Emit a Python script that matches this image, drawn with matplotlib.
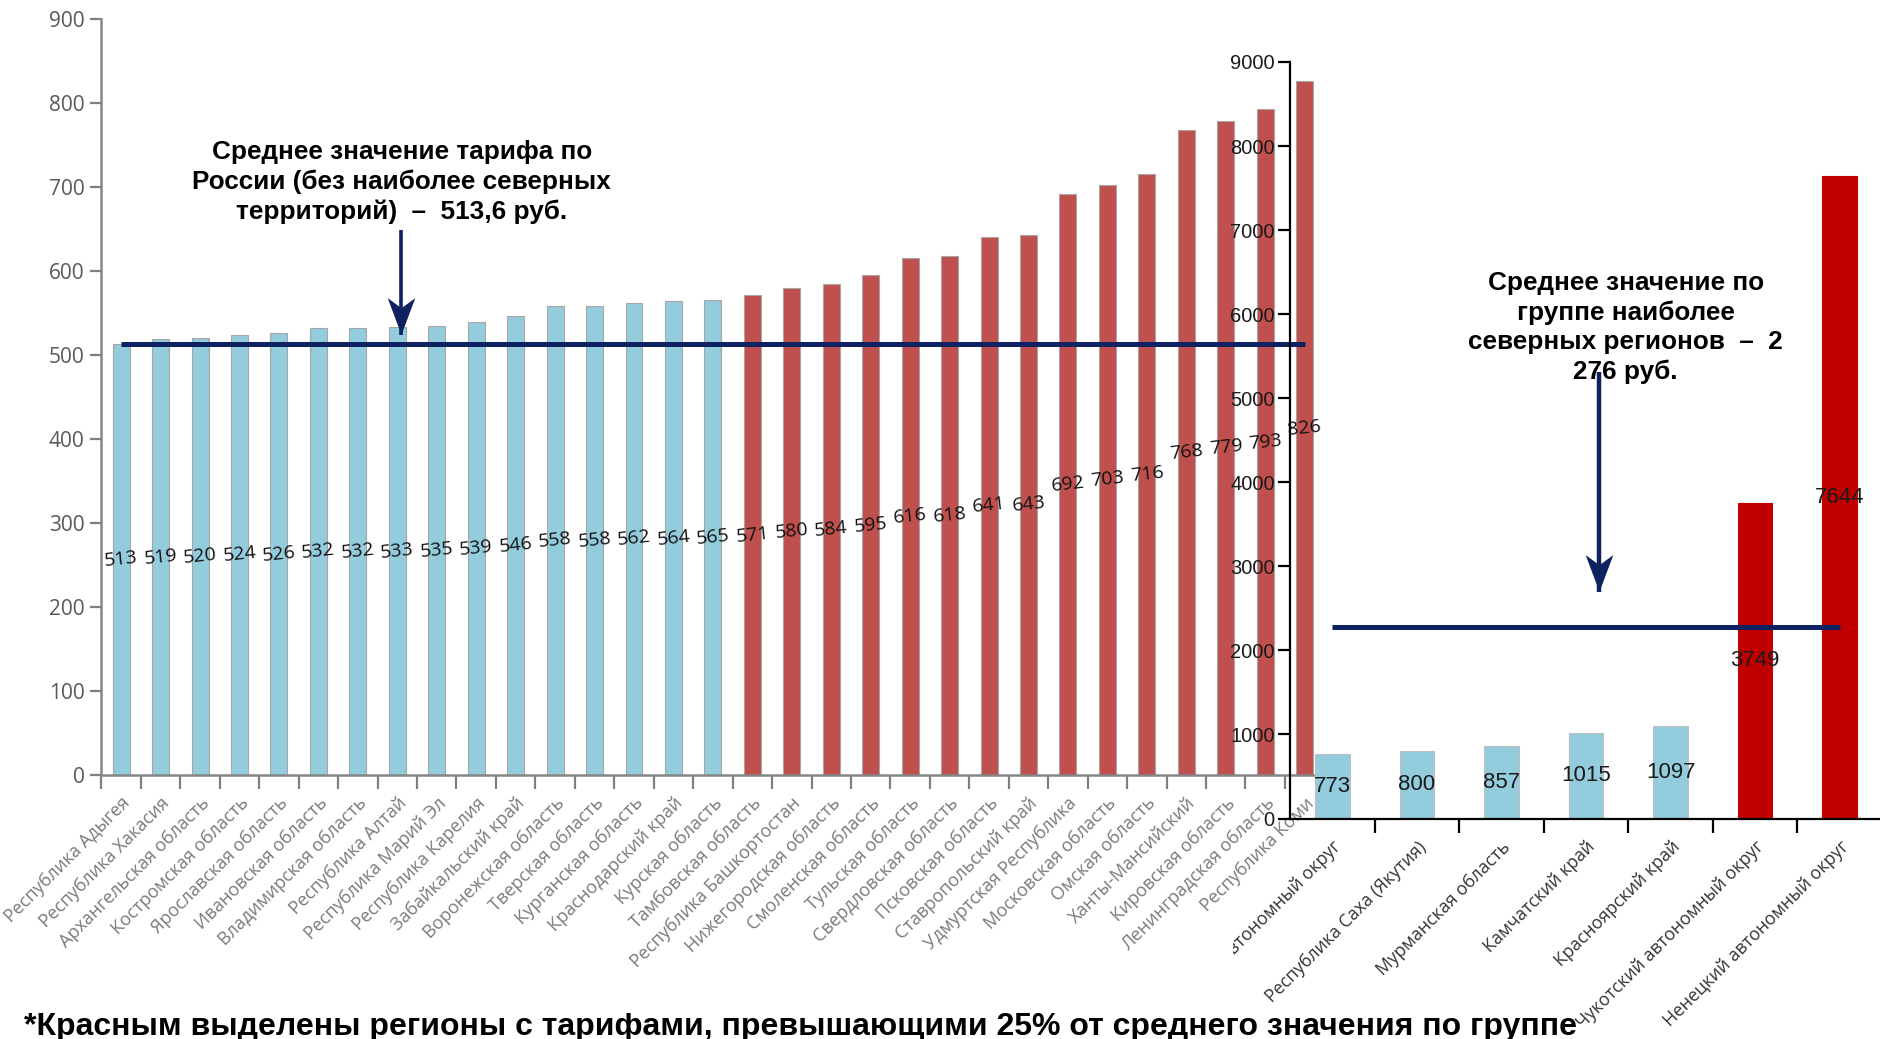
import matplotlib
matplotlib.use("Agg")
import matplotlib.pyplot as plt
from matplotlib.transforms import Bbox, TransformedBbox, ScaledTranslation
from matplotlib.path import Path

# ---------------- data ----------------
main_regions = [
    "Республика Адыгея", "Республика Хакасия", "Архангельская область",
    "Костромская область", "Ярославская область", "Ивановская область",
    "Владимирская область", "Республика Алтай", "Республика Марий Эл",
    "Республика Карелия", "Забайкальский край", "Воронежская область",
    "Тверская область", "Курганская область", "Краснодарский край",
    "Курская область", "Тамбовская область", "Республика Башкортостан",
    "Нижегородская область", "Смоленская область", "Тульская область",
    "Свердловская область", "Псковская область", "Ставропольский край",
    "Удмуртская Республика", "Московская область", "Омская область",
    "Ханты-Мансийский", "Кировская область", "Ленинградская область",
    "Республика Коми",
]
main_values = [513, 519, 520, 524, 526, 532, 532, 533, 535, 539, 546, 558,
               558, 562, 564, 565, 571, 580, 584, 595, 616, 618, 641, 643,
               692, 703, 716, 768, 779, 793, 826]
main_high = [False] * 16 + [True] * 15
main_mean = 513.6

north_regions = [
    "Ямало-Ненецкий автономный округ", "Республика Саха (Якутия)",
    "Мурманская область", "Камчатский край", "Красноярский край",
    "Чукотский автономный округ", "Ненецкий автономный округ",
]
north_values = [773, 800, 857, 1015, 1097, 3749, 7644]
north_high = [False, False, False, False, False, True, True]
north_mean = 2276

main_yticks = list(range(0, 901, 100))
north_yticks = list(range(0, 9001, 1000))

note_main = "Среднее значение тарифа по\nРоссии (без наиболее северных\nтерриторий)  –  513,6 руб."
note_north = "Среднее значение по\nгруппе наиболее\nсеверных регионов  –  2\n276 руб."
footnote = "*Красным выделены регионы с тарифами, превышающими 25% от среднего значения по группе"

# ---------------- style ----------------
W, H = 1880, 1039
BLUE = "#93CCDD"
RED_L = "#C0504D"
RED_R = "#C00000"
NAVY = "#0E2160"
GRAY = "#7A7A7A"
SANS = ["Open Sans", "DejaVu Sans"]
NARROW = ["Liberation Sans Narrow", "Liberation Sans", "DejaVu Sans"]
BOLD = ["Liberation Sans", "DejaVu Sans"]

fig = plt.figure(figsize=(W / 100, H / 100), dpi=100)
fig.patch.set_facecolor("white")


def add_px_axes(x0, y_top, x1, y_bottom):
    return fig.add_axes([x0 / W, (H - y_bottom) / H, (x1 - x0) / W, (y_bottom - y_top) / H])


# stealth-shaped arrow head (tip pointing down)
HEAD = Path([(0, -1), (0.75, 1), (0, 0.45), (-0.75, 1), (0, -1)],
            [Path.MOVETO, Path.LINETO, Path.LINETO, Path.LINETO, Path.CLOSEPOLY])
HEAD_PT = 26.5


def down_arrow(ax, x, y_start, y_tip, lw):
    lift = ScaledTranslation(0, HEAD_PT / 2 / 72, fig.dpi_scale_trans)
    ax.plot([x, x], [y_start, y_tip], color=NAVY, lw=lw, solid_capstyle="butt",
            zorder=6)
    ax.plot([x], [y_tip], marker=HEAD, markersize=HEAD_PT, color=NAVY,
            markeredgewidth=0, linestyle="none", transform=ax.transData + lift, zorder=7)


# ---------------- left chart ----------------
ax1 = add_px_axes(101.4, 19.2, 1324.4, 774.6)
ax1.set_facecolor("none")
n1 = len(main_values)
x1 = list(range(n1))
cols1 = [RED_L if h else BLUE for h in main_high]
ax1.bar(x1, main_values, width=0.43, color=cols1, edgecolor="#A6A6A6",
        linewidth=0.8, zorder=2)
ax1.set_xlim(-0.5, n1 - 0.5)
ax1.set_ylim(0, 900)
ax1.set_yticks(main_yticks)
ax1.set_yticklabels([str(v) for v in main_yticks], family=SANS, fontsize=15, color="#595959")
ax1.set_xticks(x1)
ax1.set_xticklabels(main_regions, rotation=45, ha="right", va="top",
                    rotation_mode="anchor", family=SANS, fontsize=13, color=GRAY)
ax1.set_xticks([i - 0.5 for i in range(n1 + 1)], minor=True)
ax1.tick_params(axis="x", which="major", length=0, pad=14)
ax1.tick_params(axis="x", which="minor", length=10, width=1.6, color="#808080", direction="out")
ax1.tick_params(axis="y", length=8, width=1.6, color="#808080", pad=4)
for s in ("top", "right"):
    ax1.spines[s].set_visible(False)
for s in ("left", "bottom"):
    ax1.spines[s].set_color("#868686")
    ax1.spines[s].set_linewidth(1.8)
for xi, v in zip(x1, main_values):
    ax1.text(xi, v / 2, str(v), ha="center", va="center", rotation=6,
             family=SANS, fontsize=14, color="#111111", zorder=4)
ax1.plot([0, n1 - 1], [main_mean, main_mean], color=NAVY, lw=3.6,
         solid_capstyle="butt", zorder=5)
down_arrow(ax1, 7.09, 649, 524, 2.6)
ax1.text(7.11, 706, note_main, ha="center", va="center", family=BOLD,
         fontweight="bold", fontsize=18.8, linespacing=1.28, color="black", zorder=6)

# ---------------- right chart ----------------
ax2 = add_px_axes(1290, 62, 1882, 818.5)
ax2.set_facecolor("none")
n2 = len(north_values)
x2 = list(range(n2))
cols2 = [RED_R if h else BLUE for h in north_high]
edges2 = ["#BFBFBF" if not h else RED_R for h in north_high]
ax2.bar(x2, north_values, width=0.41, color=cols2, edgecolor=edges2,
        linewidth=0.8, zorder=2)
ax2.set_xlim(-0.5, n2 - 0.5)
ax2.set_ylim(0, 9000)
ax2.set_yticks(north_yticks)
ax2.set_yticklabels([str(v) for v in north_yticks], family=NARROW, fontsize=14.5, color="#1A1A1A")
ax2.set_xticks(x2)
ax2.set_xticklabels(north_regions, rotation=45, ha="right", va="top",
                    rotation_mode="anchor", family=SANS, fontsize=12.8, color="#333333")
ax2.set_xticks([i - 0.5 for i in range(1, n2 + 1)], minor=True)
ax2.tick_params(axis="x", which="major", length=0, pad=14)
ax2.tick_params(axis="x", which="minor", length=10, width=1.6, color="black", direction="out")
ax2.tick_params(axis="y", length=9, width=1.6, color="black", pad=2)
for s in ("top", "right"):
    ax2.spines[s].set_visible(False)
for s in ("left", "bottom"):
    ax2.spines[s].set_color("black")
    ax2.spines[s].set_linewidth(1.6)
for xi, v in zip(x2, north_values):
    ax2.text(xi, v / 2, str(v), ha="center", va="center", family=NARROW,
             fontsize=16, color="#1A1A1A", zorder=4)
ax2.plot([0, n2 - 1], [north_mean, north_mean], color=NAVY, lw=3.6,
         solid_capstyle="butt", zorder=5)
down_arrow(ax2, 3.15, 5315, 2700, 3.2)
ax2.text(3.47, 5840, note_north, ha="center", va="center", family=BOLD,
         fontweight="bold", fontsize=18.8, linespacing=1.28, color="black", zorder=5)

# clip the first northern label like in the reference
clip = TransformedBbox(Bbox([[1233 / W, 0], [1, 1]]), fig.transFigure)
lbl = ax2.get_xticklabels()[0]
lbl.set_clip_box(clip)
lbl.set_clip_on(True)

# ---------------- footnote ----------------
fig.text(24 / W, (H - 1027) / H, footnote, ha="left", va="center", family=BOLD,
         fontweight="bold", fontsize=23, color="black")

fig.savefig("out.png", dpi=100, facecolor="white")
